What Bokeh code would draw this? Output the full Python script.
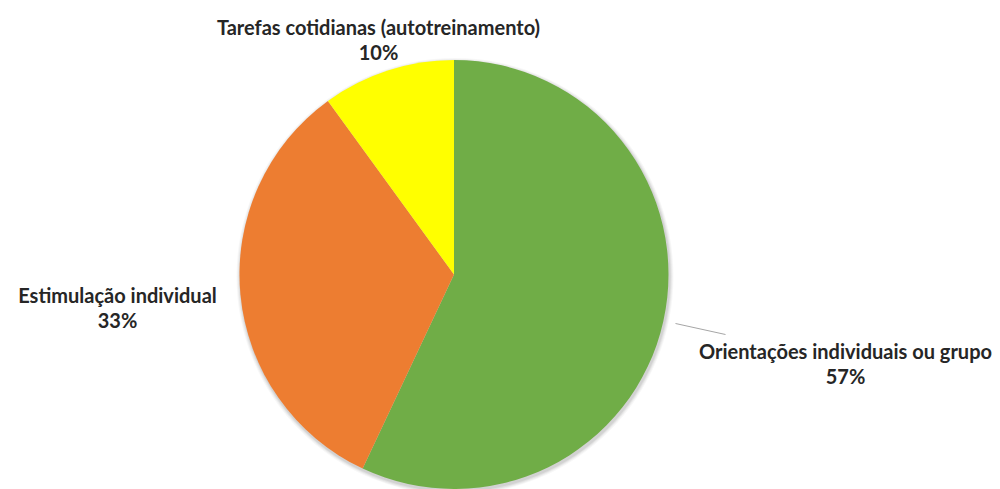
from math import pi
import numpy as np
import pandas as pd
from bokeh.plotting import figure
from bokeh.models import Range1d, ColumnDataSource
from bokeh.core.properties import value
from bokeh.embed import file_html
from bokeh.resources import INLINE

# ---- data ----
categories = ["Orientações individuais ou grupo", "Estimulação individual", "Tarefas cotidianas (autotreinamento)"]
percents = [57, 33, 10]
colors = ["#70AD47", "#ED7D31", "#FFFF00"]

# ---- layout (page pixels, origin top-left) ----
W, H = 1000, 489
CX, CY, R = 453.5, 274, 214.5
label_xy = [(845, 350), (117, 294), (378, 26)]
LINE_GAP = 25

def py(y):
    return 489 - y

df = pd.DataFrame({"cat": categories, "pct": percents, "color": colors})
frac = np.array(percents) / sum(percents) * 2 * pi
cum = np.cumsum(frac)
df["end"] = pi / 2 - np.concatenate([[0], cum[:-1]])
df["start"] = pi / 2 - cum
src = ColumnDataSource(df)

p = figure(width=W, height=H, output_backend="svg", toolbar_location=None,
           x_range=Range1d(0, W), y_range=Range1d(489 - H, 489),
           min_border=0)
p.axis.visible = False
p.grid.visible = False
p.outline_line_color = None
p.background_fill_color = "white"

# soft shadow
for i, a in enumerate([0.03, 0.04, 0.05, 0.06]):
    p.circle(x=[CX + 1], y=[py(CY) - 2], radius=R + 4 - i, fill_color="#000000",
             fill_alpha=a, line_color=None)

# pie: clockwise from 12 o'clock
p.wedge(x=CX, y=py(CY), radius=R, start_angle="start", end_angle="end",
        fill_color="color", line_color=None, source=src)

# leader line for the largest slice
p.line(x=[675, 725], y=[py(323), py(334)], line_color="#A6A6A6", line_width=1)

font = value("Lato")
for (lx, ly), cat, v in zip(label_xy, categories, percents):
    p.text(x=[lx, lx], y=[py(ly), py(ly + LINE_GAP)], text=[cat, f"{v}%"],
           text_font=font, text_font_style="bold", text_font_size="20px",
           text_color="#262626", text_align="center", text_baseline="middle")

open("out.html", "w").write(file_html(p, INLINE))
